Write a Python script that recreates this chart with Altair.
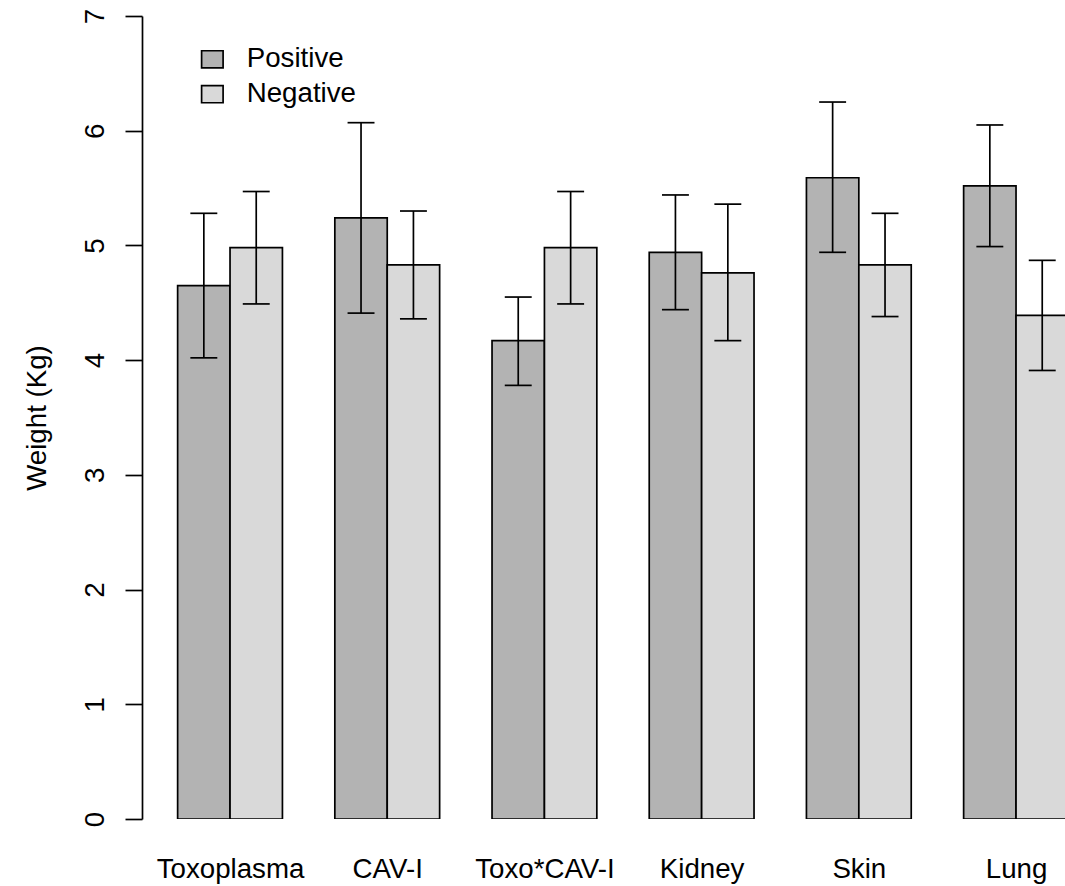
import json
import altair as alt
import pandas as pd

# ---- data ----
categories = ["Toxoplasma", "CAV-I", "Toxo*CAV-I", "Kidney", "Skin", "Lung"]
series = ["Positive", "Negative"]
pos_mean = [4.65, 5.24, 4.17, 4.94, 5.59, 5.52]
pos_lo = [4.02, 4.41, 3.78, 4.44, 4.94, 4.99]
pos_hi = [5.28, 6.07, 4.55, 5.44, 6.25, 6.05]
neg_mean = [4.98, 4.83, 4.98, 4.76, 4.83, 4.39]
neg_lo = [4.49, 4.36, 4.49, 4.17, 4.38, 3.91]
neg_hi = [5.47, 5.30, 5.47, 5.36, 5.28, 4.87]
y_ticks = [0, 1, 2, 3, 4, 5, 6, 7]

rows = []
for g, cat in enumerate(categories):
    for s, (name, m, lo, hi) in enumerate(
        [("Positive", pos_mean[g], pos_lo[g], pos_hi[g]),
         ("Negative", neg_mean[g], neg_lo[g], neg_hi[g])]
    ):
        rows.append(dict(group=cat, g=g, s=s, series=name, mean=m, lo=lo, hi=hi))
df = pd.DataFrame(rows)

FONT = "Liberation Sans"
FS = 27.7
LW = 1.7
CAP = 0.257  # half cap width in bar units

base = alt.Chart(df).transform_calculate(
    x0="datum.g * 3 + 1 + datum.s",
    x1="datum.g * 3 + 2 + datum.s",
    xc="datum.g * 3 + 1.5 + datum.s",
    cl=f"datum.g * 3 + 1.5 + datum.s - {CAP}",
    cr=f"datum.g * 3 + 1.5 + datum.s + {CAP}",
)

xscale = alt.Scale(domain=[0.32, 0.32 + 923 / 52.4], nice=False, zero=False)
yscale = alt.Scale(domain=[0, 7], nice=False, zero=True)

label_expr = json.dumps(categories) + "[round((datum.value - 2) / 3)]"

xaxis = alt.Axis(
    values=[g * 3 + 2 for g in range(len(categories))],
    labelExpr=label_expr,
    domain=False, ticks=False, tickSize=0, grid=False, title=None,
    labelFont=FONT, labelFontSize=FS, labelColor="black",
    labelAlign="center", labelBaseline="alphabetic", labelPadding=58,
    labelFlush=False, labelOverlap=False,
)
yaxis = alt.Axis(
    values=y_ticks, format="d", grid=False,
    domainColor="black", domainWidth=LW,
    tickColor="black", tickWidth=LW, tickSize=17,
    labelFont=FONT, labelFontSize=FS, labelColor="black",
    labelAngle=270, labelAlign="center", labelBaseline="alphabetic",
    labelPadding=22, labelFlush=False, labelOverlap=False,
    title="Weight (Kg)", titleFont=FONT, titleFontSize=FS,
    titleFontWeight="normal", titleColor="black",
    titleAngle=270, titleAlign="center", titleBaseline="alphabetic",
    titleX=-97, titleY=401.5,
)

bars = base.mark_bar(stroke="black", strokeWidth=LW, clip=True, opacity=1).encode(
    x=alt.X("x0:Q", scale=xscale, axis=xaxis),
    x2="x1:Q",
    y=alt.Y("mean:Q", scale=yscale, axis=yaxis),
    y2=alt.datum(0),
    color=alt.Color(
        "series:N",
        scale=alt.Scale(domain=series, range=["#B3B3B3", "#D9D9D9"]),
        legend=alt.Legend(
            title=None, orient="none", legendX=56.5, legendY=29.5, padding=0,
            symbolType="M-1,-0.8H1V0.8H-1Z", symbolSize=462,
            symbolStrokeColor="black", symbolStrokeWidth=LW, symbolOpacity=1,
            labelFont=FONT, labelFontSize=FS, labelColor="black",
            labelOffset=20.5, rowPadding=5.8,
        ),
    ),
)

stems = base.mark_rule(color="black", strokeWidth=LW, clip=True).encode(
    x="xc:Q", y="lo:Q", y2="hi:Q"
)
cap_hi = base.mark_rule(color="black", strokeWidth=LW, clip=True).encode(
    x="cl:Q", x2="cr:Q", y="hi:Q"
)
cap_lo = base.mark_rule(color="black", strokeWidth=LW, clip=True).encode(
    x="cl:Q", x2="cr:Q", y="lo:Q"
)

chart = alt.layer(bars, stems, cap_hi, cap_lo).properties(
    width=923, height=803,
    padding={"left": 142, "top": 16, "right": 0, "bottom": 67},
    autosize=alt.AutoSizeParams(type="none"),
    background="white",
).configure_view(stroke=None)

chart.save("out.html", embed_options={"renderer": "svg", "actions": False})
